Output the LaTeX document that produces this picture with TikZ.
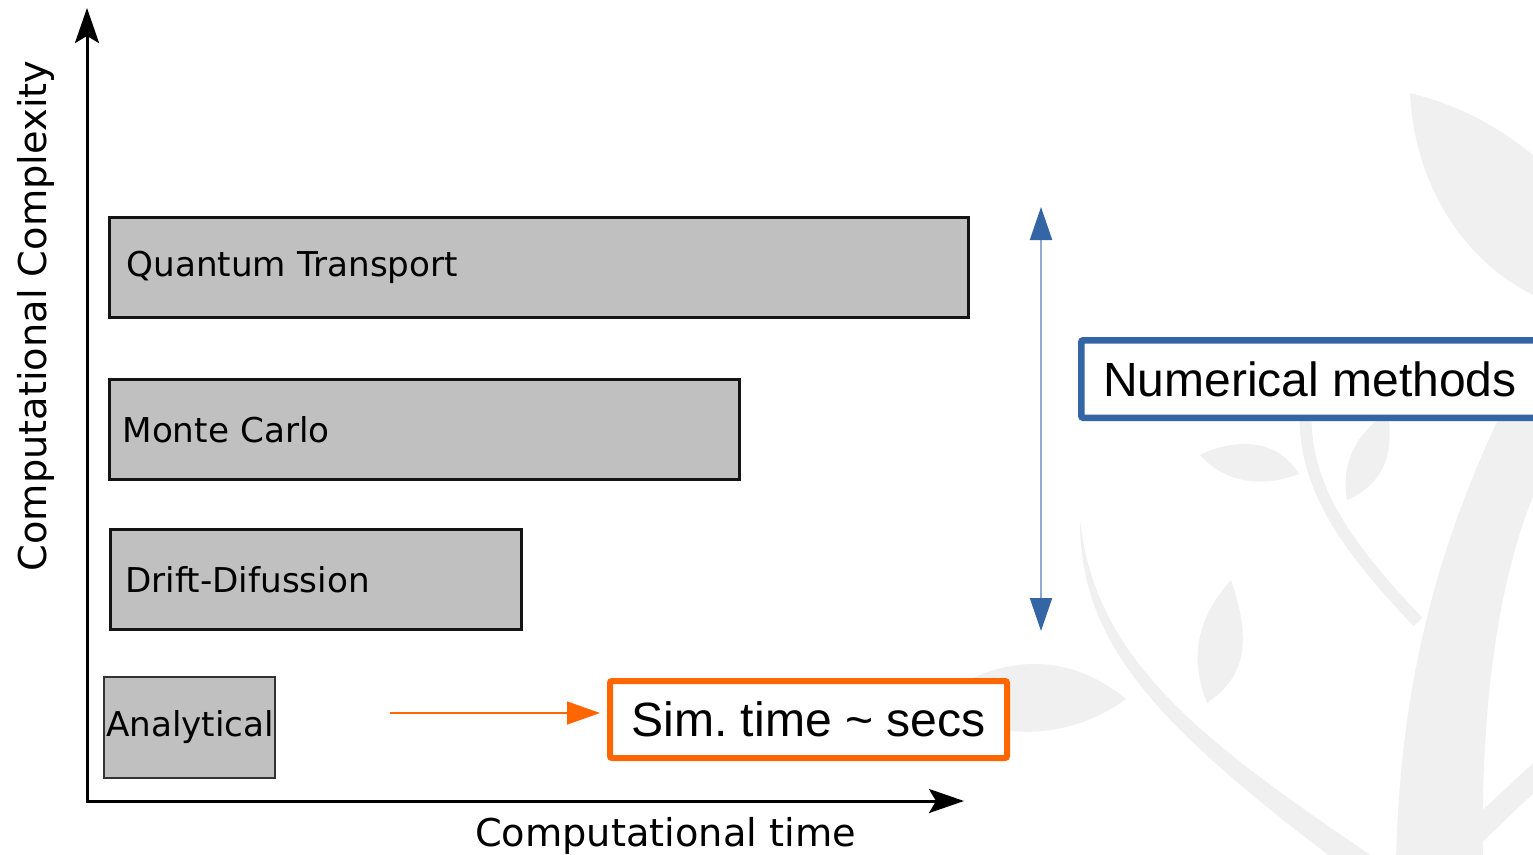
\documentclass[tikz,border=0pt]{standalone}
\usepackage{fontspec}
\setmainfont{DejaVu Sans}
\newfontfamily\callfont{Liberation Sans}
\usetikzlibrary{arrows.meta}
\definecolor{barfill}{HTML}{C0C0C0}
\definecolor{treegray}{HTML}{F0F0F0}
\definecolor{methblue}{HTML}{3465A4}
\definecolor{methline}{HTML}{8FAAD0}
\definecolor{simorange}{HTML}{FF6600}

\begin{document}
\begin{tikzpicture}[x=1pt,y=-1pt,
  bar/.style={draw=black!92, line width=3pt, fill=barfill, anchor=north west,
    minimum height=100pt, inner ysep=0pt, align=left,
    font=\fontsize{34.2}{40}\selectfont},
  axis/.style={line width=3pt, black,
    {Stealth[length=35pt,width=24pt,inset=7pt]}-{Stealth[length=35pt,width=24pt,inset=7pt]}},
  callout/.style={fill=white, line width=6.5pt, rounded corners=2pt,
    inner ysep=0pt, font=\callfont\fontsize{48}{56}\selectfont},
  leaf/.style={fill=treegray, draw=none}
]
\useasboundingbox (0,0) rectangle (1533,854);
\clip (0,0) rectangle (1533,854);
\fill[white] (0,0) rectangle (1533,854);

% faint tree in the background
\fill[leaf] (1410,93) .. controls (1470,108) and (1510,135) .. (1545,165)
  -- (1545,300) .. controls (1480,275) and (1415,200) .. (1410,93);
\fill[leaf] (1396,860) .. controls (1400,700) and (1430,530) .. (1545,330)
  -- (1545,470) .. controls (1500,560) and (1480,700) .. (1483,860) -- cycle;
\fill[leaf] (1474,818) -- (1545,752) -- (1545,782) -- (1478,846) -- cycle;
\draw[treegray, line width=12pt] (1418,622) .. controls (1340,540) and (1300,480) .. (1306,400);
\fill[leaf] (1080,520) .. controls (1080,640) and (1150,720) .. (1335,860)
  -- (1378,860) .. controls (1200,740) and (1095,660) .. (1080,520);
\fill[leaf] (935,700) .. controls (990,660) and (1060,645) .. (1126,699)
  .. controls (1070,740) and (990,745) .. (935,700);
\fill[leaf] (1231,580) .. controls (1195,620) and (1190,660) .. (1207,703)
  .. controls (1240,680) and (1255,650) .. (1231,580);
\fill[leaf] (1200,455) .. controls (1230,440) and (1275,435) .. (1299,474)
  .. controls (1270,485) and (1230,488) .. (1200,455);
\fill[leaf] (1347,500) .. controls (1340,460) and (1360,430) .. (1388,412)
  .. controls (1395,460) and (1380,485) .. (1347,500);

% axes
\coordinate (origin) at (87,801);
\coordinate (ytip) at (87,8);
\coordinate (xtip) at (964,801);
\draw[axis] (ytip) -- (origin) -- (xtip);
\node[anchor=base, font=\fontsize{38.3}{44}\selectfont] (xlabel) at (665.5,846) {Computational time};
\node[anchor=base, rotate=90, font=\fontsize{38.3}{44}\selectfont] (ylabel) at (46.5,316) {Computational Complexity};

% method bars
\node[bar, inner xsep=17pt, text width=825pt] (qt) at (108,216) {Quantum Transport};
\node[bar, inner xsep=13pt, text width=604pt] (mc) at (108,378) {Monte Carlo};
\node[bar, inner xsep=15pt, text width=381pt] (dd) at (109,528) {Drift-Difussion};
\node[bar, line width=2pt, draw=black!80, inner xsep=2pt, text width=167pt,
  minimum height=101pt] (an) at (103,676) {Analytical};

% numerical methods range
\coordinate (numtop) at (1041,207);
\coordinate (numbot) at (1041,631);
\draw[methline, line width=2pt,
  {Triangle[length=33pt,width=22pt,color=methblue]}-{Triangle[length=33pt,width=22pt,color=methblue]}]
  (numtop) -- (numbot);
\node[callout, draw=methblue, anchor=west, minimum height=77.5pt, inner xsep=22pt]
  (num) at (1078,379) {Numerical methods};

% analytical simulation time
\node[callout, draw=simorange, line width=6pt, minimum width=397pt, minimum height=77pt,
  font=\callfont\fontsize{48.1}{56}\selectfont] (sim) at (808.5,719.5) {Sim.\ time \textasciitilde\ secs};
\coordinate (simfrom) at (390,713);
\draw[simorange, line width=1.5pt, -{Triangle[length=33pt,width=23pt]}, shorten >=7pt]
  (simfrom) -- (simfrom -| sim.west);
\end{tikzpicture}
\end{document}
